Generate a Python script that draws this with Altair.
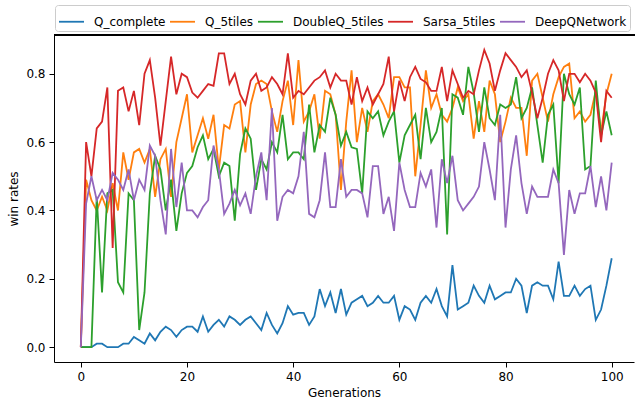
import altair as alt
import pandas as pd

series_names = ["Q_complete", "Q_5tiles", "DoubleQ_5tiles", "Sarsa_5tiles", "DeepQNetwork"]
series_colors = ["#1f77b4", "#ff7f0e", "#2ca02c", "#d62728", "#9467bd"]
generations = list(range(101))

q_complete = [0, 0, 0, 0.01, 0.01, 0, 0, 0, 0.01, 0.01,
              0.03, 0.02, 0.01, 0.04, 0.02, 0.045, 0.06, 0.05, 0.03, 0.05,
              0.06, 0.06, 0.045, 0.09, 0.045, 0.065, 0.08, 0.06, 0.09, 0.08,
              0.065, 0.08, 0.09, 0.07, 0.05, 0.10, 0.065, 0.04, 0.07, 0.12,
              0.095, 0.10, 0.10, 0.065, 0.09, 0.17, 0.12, 0.16, 0.10, 0.17,
              0.095, 0.13, 0.14, 0.15, 0.12, 0.13, 0.15, 0.13, 0.13, 0.15,
              0.08, 0.12, 0.11, 0.08, 0.13, 0.15, 0.13, 0.17, 0.12, 0.09,
              0.24, 0.11, 0.12, 0.13, 0.18, 0.15, 0.13, 0.18, 0.14, 0.15,
              0.16, 0.16, 0.20, 0.18, 0.10, 0.18, 0.19, 0.18, 0.18, 0.14,
              0.25, 0.15, 0.15, 0.18, 0.15, 0.17, 0.18, 0.08, 0.11, 0.18,
              0.26]

q_5tiles = [0, 0.49, 0.43, 0.40, 0.44, 0.40, 0.48, 0.40, 0.57, 0.49,
            0.57, 0.58, 0.54, 0.58, 0.44, 0.55, 0.58, 0.44, 0.60, 0.67,
            0.74, 0.57, 0.62, 0.67, 0.61, 0.68, 0.52, 0.65, 0.64, 0.71,
            0.72, 0.57, 0.71, 0.77, 0.78, 0.77, 0.69, 0.63, 0.72, 0.78,
            0.65, 0.84, 0.66, 0.69, 0.74, 0.61, 0.75, 0.74, 0.68, 0.46,
            0.66, 0.81, 0.60, 0.70, 0.63, 0.72, 0.74, 0.71, 0.67, 0.79,
            0.79, 0.76, 0.76, 0.50, 0.65, 0.81, 0.70, 0.74, 0.68, 0.66,
            0.70, 0.76, 0.72, 0.74, 0.61, 0.72, 0.63, 0.78, 0.74, 0.60,
            0.66, 0.73, 0.70, 0.70, 0.56, 0.78, 0.80, 0.73, 0.66, 0.74,
            0.79, 0.82, 0.83, 0.67, 0.69, 0.66, 0.68, 0.75, 0.63, 0.74,
            0.80]

doubleq_5tiles = [0, 0, 0, 0.44, 0.16, 0.45, 0.46, 0.19, 0.16, 0.45,
                  0.43, 0.05, 0.16, 0.45, 0.56, 0.52, 0.40, 0.49, 0.34, 0.45,
                  0.51, 0.53, 0.585, 0.62, 0.55, 0.58, 0.50, 0.54, 0.53, 0.37,
                  0.565, 0.64, 0.61, 0.46, 0.55, 0.52, 0.60, 0.57, 0.68, 0.55,
                  0.57, 0.57, 0.55, 0.71, 0.57, 0.65, 0.63, 0.73, 0.68, 0.59,
                  0.63, 0.585, 0.58, 0.45, 0.69, 0.67, 0.69, 0.62, 0.66, 0.69,
                  0.54, 0.62, 0.65, 0.68, 0.55, 0.70, 0.60, 0.63, 0.70, 0.33,
                  0.74, 0.73, 0.68, 0.82, 0.745, 0.63, 0.76, 0.67, 0.65, 0.71,
                  0.70, 0.71, 0.79, 0.67, 0.70, 0.76, 0.65, 0.54, 0.68, 0.71,
                  0.48, 0.80, 0.74, 0.71, 0.76, 0.52, 0.53, 0.78, 0.62, 0.69,
                  0.62]

sarsa_5tiles = [0, 0.60, 0.50, 0.64, 0.66, 0.76, 0.29, 0.75, 0.76, 0.69,
                0.75, 0.65, 0.80, 0.84, 0.73, 0.59, 0.72, 0.85, 0.74, 0.80,
                0.79, 0.745, 0.73, 0.75, 0.77, 0.765, 0.86, 0.86, 0.77, 0.80,
                0.74, 0.71, 0.78, 0.80, 0.75, 0.76, 0.79, 0.77, 0.74, 0.86,
                0.73, 0.75, 0.74, 0.76, 0.78, 0.79, 0.81, 0.76, 0.80, 0.78,
                0.78, 0.71, 0.79, 0.72, 0.76, 0.71, 0.74, 0.77, 0.85, 0.69,
                0.78, 0.72, 0.79, 0.82, 0.785, 0.775, 0.75, 0.75, 0.82, 0.72,
                0.81, 0.77, 0.73, 0.75, 0.74, 0.81, 0.87, 0.83, 0.75, 0.81,
                0.86, 0.84, 0.82, 0.79, 0.81, 0.745, 0.67, 0.73, 0.80, 0.84,
                0.81, 0.72, 0.80, 0.80, 0.775, 0.80, 0.78, 0.745, 0.60, 0.75,
                0.73]

deepq_network = [0, 0.42, 0.50, 0.43, 0.46, 0.43, 0.51, 0.49, 0.46, 0.52,
                 0.43, 0.49, 0.46, 0.59, 0.56, 0.43, 0.33, 0.58, 0.41, 0.54,
                 0.40, 0.40, 0.38, 0.41, 0.43, 0.59, 0.52, 0.39, 0.42, 0.46,
                 0.415, 0.45, 0.39, 0.50, 0.57, 0.43, 0.70, 0.37, 0.44, 0.46,
                 0.45, 0.50, 0.63, 0.39, 0.38, 0.43, 0.57, 0.41, 0.41, 0.55,
                 0.44, 0.46, 0.46, 0.45, 0.38, 0.53, 0.53, 0.39, 0.44, 0.34,
                 0.54, 0.46, 0.41, 0.41, 0.51, 0.47, 0.52, 0.35, 0.55, 0.48,
                 0.56, 0.43, 0.40, 0.42, 0.44, 0.47, 0.60, 0.52, 0.43, 0.68,
                 0.35, 0.52, 0.62, 0.48, 0.39, 0.47, 0.44, 0.44, 0.44, 0.52,
                 0.48, 0.27, 0.46, 0.39, 0.45, 0.45, 0.53, 0.41, 0.50, 0.40,
                 0.54]

all_series = [q_complete, q_5tiles, doubleq_5tiles, sarsa_5tiles, deepq_network]
rows = []
for k, (name, vals) in enumerate(zip(series_names, all_series)):
    for g, v in zip(generations, vals):
        rows.append({"gen": g, "rate": v, "series": name, "k": k})
df = pd.DataFrame(rows)

FONT = "DejaVu Sans"

lines = alt.Chart(df).mark_line(strokeWidth=1.8, clip=True).encode(
    x=alt.X("gen:Q",
            scale=alt.Scale(domain=[-5.05, 104.2], nice=False, zero=False),
            axis=alt.Axis(values=[0, 20, 40, 60, 80, 100], title="Generations",
                          grid=False, tickSize=5, labelPadding=4, titlePadding=5)),
    y=alt.Y("rate:Q",
            scale=alt.Scale(domain=[-0.0435, 0.9135], nice=False, zero=False),
            axis=alt.Axis(values=[0, 0.2, 0.4, 0.6, 0.8], format=".1f", title="win rates",
                          grid=False, tickSize=5, labelPadding=4, titlePadding=5)),
    color=alt.Color("series:N",
                    scale=alt.Scale(domain=series_names, range=series_colors),
                    legend=alt.Legend(orient="none", legendX=1, legendY=-30,
                                      direction="horizontal", title=None,
                                      symbolType="stroke", symbolSize=625,
                                      symbolStrokeWidth=1.8,
                                      labelFont=FONT, labelFontSize=12, labelColor="black",
                                      labelOffset=9, columnPadding=0, padding=3,
                                      strokeColor="#cccccc", fillColor="white",
                                      cornerRadius=3)),
    detail="k:O",
)

top_spine = alt.Chart(df).mark_rule(color="black", strokeWidth=1).encode(
    x=alt.value(0), x2=alt.value(581), y=alt.value(0)
)

chart = alt.layer(lines, top_spine).properties(
    width=580, height=327,
    autosize=alt.AutoSizeParams(type="none"),
    padding={"left": 54, "top": 35, "right": 1, "bottom": 39},
).configure_view(stroke=None).configure_axis(
    labelFont=FONT, titleFont=FONT, labelFontSize=12, titleFontSize=12,
    titleFontWeight="normal", labelColor="black", titleColor="black",
    domainColor="black", tickColor="black", domainWidth=1, tickWidth=1,
)

chart.save("out.html", embed_options={"renderer": "svg", "actions": False})
